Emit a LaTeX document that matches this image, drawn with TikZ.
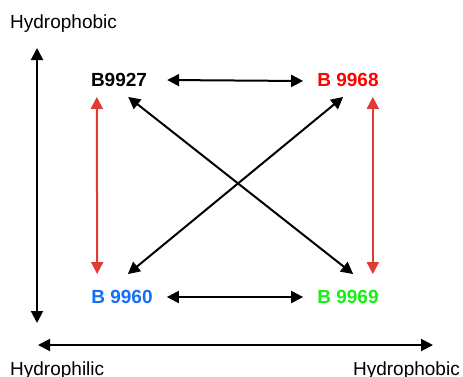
\documentclass[tikz,border=0pt]{standalone}
\usepackage{fontspec}
\setmainfont{Liberation Sans}
\usetikzlibrary{arrows.meta,calc}
\definecolor{labred}{RGB}{255,0,0}
\definecolor{labblue}{RGB}{20,110,250}
\definecolor{labgreen}{RGB}{20,240,20}
\definecolor{arrred}{RGB}{224,60,52}
\begin{document}
\begin{tikzpicture}[x=1pt,y=-1pt,
  axislabel/.style={inner sep=0pt,font=\fontsize{19}{19}\selectfont},
  sample/.style={inner sep=0pt,font=\bfseries\fontsize{19}{19}\selectfont},
  link/.style={line width=2pt,{Triangle[length=12pt,width=12pt]}-{Triangle[length=12pt,width=12pt]}},
  redlink/.style={link,draw=arrred,color=arrred}]
\useasboundingbox (0,0) rectangle (463,376);
% axis labels
\node[axislabel,anchor=base west] (ytop) at (10,28.5) {Hydrophobic};
\node[axislabel,anchor=base west] (xleft) at (10,375) {Hydrophilic};
\node[axislabel,anchor=base east] (xright) at (460,375) {Hydrophobic};
% axes
\coordinate (ya) at (37,48);
\coordinate (yb) at (37,323);
\coordinate (xa) at (38,345);
\coordinate (xb) at (433,345);
\draw[link] (ya) -- (yb);
\draw[link] (xa) -- (xb);
% samples
\node[sample] (a) at (119,80) {B9927};
\node[sample,text=labred] (b) at (348,80) {B 9968};
\node[sample,text=labblue] (c) at (122,297) {B 9960};
\node[sample,text=labgreen] (d) at (348,297) {B 9969};
% horizontal links
\draw[link] ($(a.east)+(20,0)$) -- ($(b.west)+(-14,1)$);
\draw[link] ($(c.east)+(14,0)$) -- ($(d.west)+(-14,0)$);
% vertical red links
\draw[redlink] ($(a.south west)+(6,10)$) -- ($(c.north west)+(6,-16)$);
\draw[redlink] ($(b.south east)+(-6,10)$) -- ($(d.north east)+(-6,-16)$);
% diagonals
\draw[link] ($(a.south east)+(-19,10)$) -- ($(d.north west)+(36,-16)$);
\draw[link] ($(b.south west)+(26,10)$) -- ($(c.north east)+(-25,-16)$);
\end{tikzpicture}
\end{document}
